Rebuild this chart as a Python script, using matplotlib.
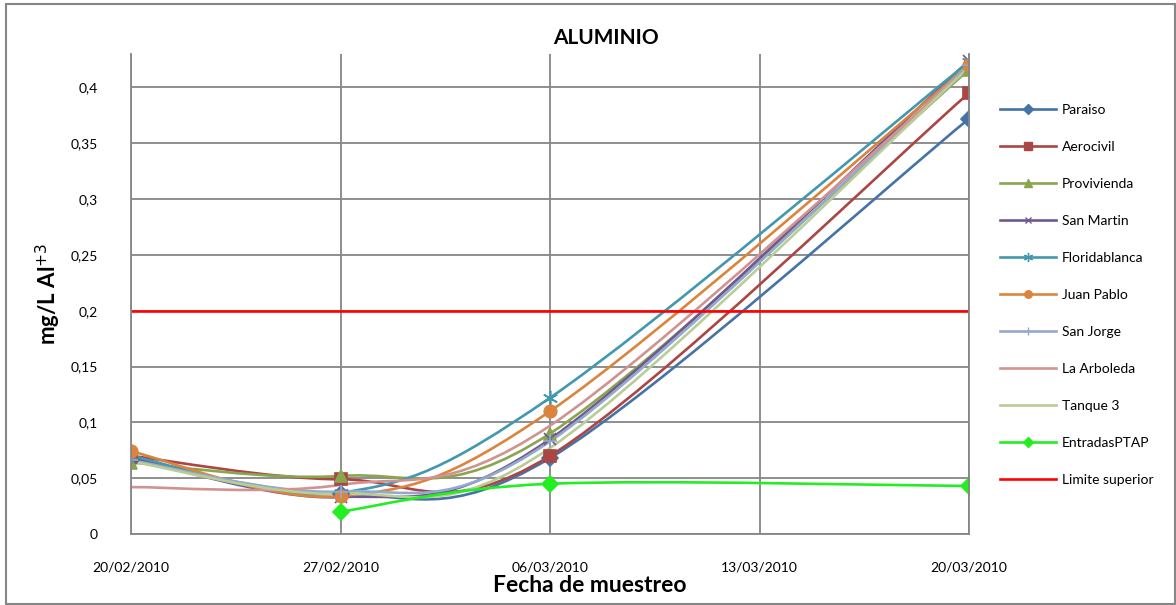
import datetime as dt
import numpy as np
import matplotlib
matplotlib.use("Agg")
import matplotlib.pyplot as plt
import matplotlib.dates as mdates
from matplotlib.path import Path
from matplotlib.patches import PathPatch, Rectangle
from matplotlib.lines import Line2D
from matplotlib.ticker import FuncFormatter

plt.rcParams['font.family'] = ['Lato', 'DejaVu Sans']

# fechas de muestreo
fechas = [dt.datetime(2010, 2, 20), dt.datetime(2010, 2, 27),
          dt.datetime(2010, 3, 6), dt.datetime(2010, 3, 20)]

# mg/L Al+3 por punto de muestreo
paraiso = [0.066, 0.036, 0.068, 0.372]
aerocivil = [0.070, 0.049, 0.070, 0.395]
provivienda = [0.064, 0.052, 0.090, 0.416]
san_martin = [0.068, 0.033, 0.085, 0.424]
floridablanca = [0.070, 0.037, 0.122, 0.423]
juan_pablo = [0.074, 0.034, 0.110, 0.420]
san_jorge = [0.066, 0.038, 0.083, 0.420]
la_arboleda = [0.042, 0.044, 0.097, 0.418]
tanque3 = [0.065, 0.036, 0.077, 0.418]
entradas_ptap = [np.nan, 0.020, 0.045, 0.043]
limite = [0.2, 0.2, 0.2, 0.2]

series = [
    ("Paraiso", paraiso, "#4572A7", "D", 8),
    ("Aerocivil", aerocivil, "#AA4643", "s", 9),
    ("Provivienda", provivienda, "#89A54E", "^", 9),
    ("San Martin", san_martin, "#71588F", "x", 8),
    ("Floridablanca", floridablanca, "#4198AF", (6, 2, 0), 11),
    ("Juan Pablo", juan_pablo, "#DB843D", "o", 9),
    ("San Jorge", san_jorge, "#93A9CF", "+", 10),
    ("La Arboleda", la_arboleda, "#D19392", None, 0),
    ("Tanque 3", tanque3, "#B9CD96", None, 0),
    ("EntradasPTAP", entradas_ptap, "#22EE22", "D", 8),
]

gris = "#868686"


def curva(ax, xs, ys, color, lw):
    ## suavizado tipo excel (bezier con los vecinos)
    pts = np.array([(x, y) for x, y in zip(xs, ys) if not np.isnan(y)])
    n = len(pts)
    verts = [pts[0]]
    codes = [Path.MOVETO]
    for i in range(n - 1):
        p0 = pts[max(i - 1, 0)]
        p1 = pts[i]
        p2 = pts[i + 1]
        p3 = pts[min(i + 2, n - 1)]
        verts += [p1 + (p2 - p0) / 6, p2 - (p3 - p1) / 6, p2]
        codes += [Path.CURVE4] * 3
    ax.add_patch(PathPatch(Path(verts, codes), fill=False, edgecolor=color,
                           lw=lw, capstyle='round', joinstyle='round'))


fig = plt.figure(figsize=(11.76, 6.05), dpi=100)
ax = fig.add_axes([131 / 1176, 1 - 534 / 605, (969 - 131) / 1176, (534 - 54) / 605])

xnum = mdates.date2num(fechas)
handles = []
for nombre, vals, color, mk, ms in series:
    curva(ax, xnum, vals, color, 1.9)
    if mk is not None:
        ax.plot(fechas, vals, linestyle='none', marker=mk, markersize=ms,
                color=color, markeredgecolor=color, markeredgewidth=1.2)
    handles.append(Line2D([], [], color=color, lw=1.9, marker=mk,
                          markersize=ms * 0.6, markeredgewidth=1.0))

ax.plot(fechas, limite, color="#FF0000", lw=1.9)
handles.append(Line2D([], [], color="#FF0000", lw=1.9))
labels = [s[0] for s in series] + ["Limite superior"]

ax.set_xlim(fechas[0], fechas[-1])
ax.set_ylim(0, 0.43)
ax.set_yticks(np.arange(0, 0.41, 0.05))
ax.yaxis.set_major_formatter(FuncFormatter(lambda v, _: ('%g' % round(v, 2)).replace('.', ',')))
ax.set_xticks([fechas[0] + dt.timedelta(days=7 * k) for k in range(5)])
ax.xaxis.set_major_formatter(mdates.DateFormatter('%d/%m/%Y'))
ax.tick_params(length=0, labelsize=10)
ax.tick_params(axis='y', pad=24)
ax.tick_params(axis='x', pad=20)
ax.grid(True, color=gris, lw=1.3)
ax.set_axisbelow(True)
ax.spines['top'].set_visible(False)
for s in ['left', 'bottom', 'right']:
    ax.spines[s].set_color(gris)
    ax.spines[s].set_linewidth(1.3)

fig.text(48 / 1176, 1 - 294 / 605, "mg/L Al$^{+3}$", rotation=90, ha='center', va='center',
         fontsize=16, fontweight='bold')
fig.text(606 / 1176, 1 - 38 / 605, "ALUMINIO", ha='center', va='center',
         fontsize=15, fontweight='bold')
fig.text(590 / 1176, 1 - 586 / 605, "Fecha de muestreo", ha='center', va='center',
         fontsize=16.5, fontweight='bold')

fig.legend(handles, labels, loc='upper left', bbox_to_anchor=(1000 / 1176, 1 - 104 / 605),
           frameon=False, fontsize=10, handlelength=4.0, handletextpad=0.45,
           labelspacing=1.8, borderpad=0, borderaxespad=0)

fig.add_artist(Rectangle((6 / 1176, 0.002), 1169 / 1176, 1 - 4 / 605 - 0.002,
                         transform=fig.transFigure, fill=False, edgecolor=gris, lw=1.5))

fig.savefig("out.png", dpi=100)
